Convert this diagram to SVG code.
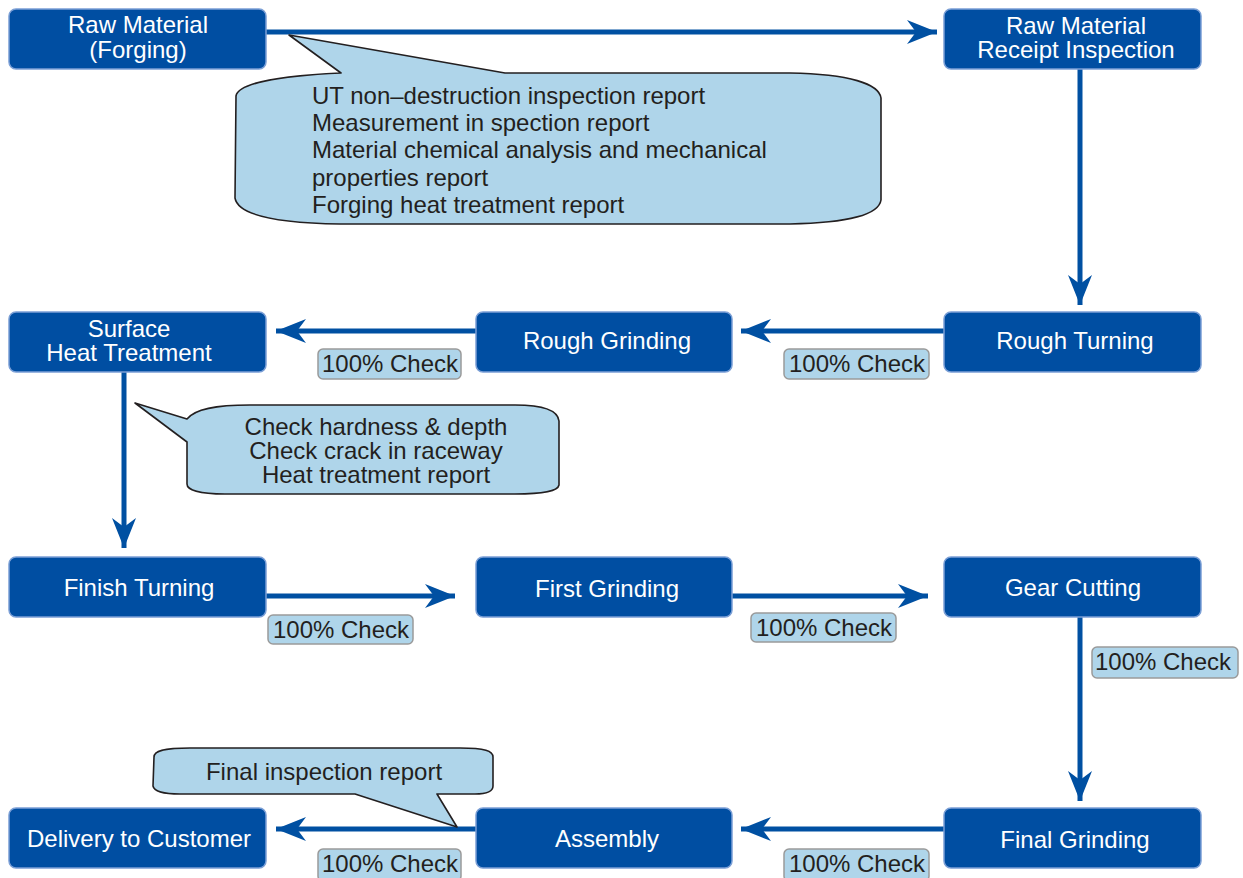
<svg xmlns="http://www.w3.org/2000/svg" width="1243" height="878" viewBox="0 0 1243 878">
<defs>
<marker id="ah" markerUnits="userSpaceOnUse" markerWidth="32" markerHeight="26" viewBox="0 0 32 26" refX="30" refY="13" orient="auto">
<path d="M0,1 L30,13 L0,25 L9,13 Z" fill="#0050a2"/>
</marker>
<style>
.node rect{fill:#004ea2;stroke:#7b9fd6;stroke-width:1.5}
.node text{fill:#fff;font-family:"Liberation Sans",Arial,sans-serif;font-size:24px;text-anchor:middle}
.conn line{stroke:#0050a2;stroke-width:5;marker-end:url(#ah)}
.chk rect{fill:#afd5ea;stroke:#9a9a9a;stroke-width:1.5}
.chk text,.call text{fill:#231f20;font-family:"Liberation Sans",Arial,sans-serif;font-size:24px}
.chk text{text-anchor:middle}
.call path{fill:#afd5ea;stroke:#231f20;stroke-width:1.6;stroke-linejoin:round}
</style>
</defs>
<rect width="1243" height="878" fill="#fff"/>
<g id="connectors" class="conn">
<line x1="266" y1="32" x2="937" y2="32"/>
<line x1="1080" y1="69" x2="1080" y2="305"/>
<line x1="944" y1="331" x2="741" y2="331"/>
<line x1="476" y1="331" x2="276" y2="331"/>
<line x1="124" y1="372" x2="124" y2="548"/>
<line x1="266" y1="596" x2="455" y2="596"/>
<line x1="732" y1="596" x2="928" y2="596"/>
<line x1="1080" y1="617" x2="1080" y2="801"/>
<line x1="944" y1="829" x2="741" y2="829"/>
<line x1="476" y1="829" x2="276" y2="829"/>
</g>
<g id="callout1" class="call">
<path d="M289,35 L341,73 C275,76 238,84 236,96 L235,198 C238,216 280,223 340,224 L790,224 C850,223 879,214 881,200 L881,98 C879,84 850,74 790,73 L505,73 Z"/>
<text x="312" y="104">UT non–destruction inspection report</text>
<text x="312" y="131">Measurement in spection report</text>
<text x="312" y="158">Material chemical analysis and mechanical</text>
<text x="312" y="186">properties report</text>
<text x="312" y="213">Forging heat treatment report</text>
</g>
<g id="callout2" class="call">
<path d="M135,403 L187,419 C195,409 215,405 250,405 L515,405 C545,405 558,411 559,421 L559,485 C558,491 545,494 515,494 L225,494 C200,494 187,490 187,484 L187,442 Z"/>
<text x="376" y="435" text-anchor="middle">Check hardness &amp; depth</text>
<text x="376" y="459" text-anchor="middle">Check crack in raceway</text>
<text x="376" y="483" text-anchor="middle">Heat treatment report</text>
</g>
<g id="callout3" class="call">
<path d="M457,827 L437,794 L475,794 C488,794 493,791 493,786 L493,757 C493,751 485,748 460,748 L190,748 C163,748 154,751 154,757 L153,786 C154,791 162,794 180,794 L355,794 Z"/>
<text x="324" y="780" text-anchor="middle">Final inspection report</text>
</g>
<g id="n_raw" class="node"><rect x="9" y="9" width="257" height="60" rx="7"/><text x="138" y="33">Raw Material</text><text x="138" y="58">(Forging)</text></g>
<g id="n_receipt" class="node"><rect x="944" y="9" width="257" height="60" rx="7"/><text x="1076" y="34">Raw Material</text><text x="1076" y="58">Receipt Inspection</text></g>
<g id="n_roughturn" class="node"><rect x="944" y="312" width="257" height="60" rx="7"/><text x="1075" y="349">Rough Turning</text></g>
<g id="n_roughgrind" class="node"><rect x="476" y="312" width="256" height="60" rx="7"/><text x="607" y="349">Rough Grinding</text></g>
<g id="n_surface" class="node"><rect x="9" y="312" width="257" height="60" rx="7"/><text x="129" y="337">Surface</text><text x="129" y="361">Heat Treatment</text></g>
<g id="n_finishturn" class="node"><rect x="9" y="557" width="257" height="60" rx="7"/><text x="139" y="596">Finish Turning</text></g>
<g id="n_firstgrind" class="node"><rect x="476" y="557" width="256" height="60" rx="7"/><text x="607" y="597">First Grinding</text></g>
<g id="n_gear" class="node"><rect x="944" y="557" width="257" height="60" rx="7"/><text x="1073" y="596">Gear Cutting</text></g>
<g id="n_finalgrind" class="node"><rect x="944" y="808" width="257" height="60" rx="7"/><text x="1075" y="848">Final Grinding</text></g>
<g id="n_assembly" class="node"><rect x="476" y="808" width="256" height="60" rx="7"/><text x="607" y="847">Assembly</text></g>
<g id="n_delivery" class="node"><rect x="9" y="808" width="257" height="60" rx="7"/><text x="139" y="847">Delivery to Customer</text></g>
<g id="checks" class="chk">
<g><rect x="318" y="349" width="143" height="30" rx="5"/><text x="390" y="372">100% Check</text></g>
<g><rect x="784" y="349" width="145" height="30" rx="5"/><text x="857" y="372">100% Check</text></g>
<g><rect x="268" y="615" width="145" height="29" rx="5"/><text x="341" y="638">100% Check</text></g>
<g><rect x="751" y="613" width="145" height="29" rx="5"/><text x="824" y="636">100% Check</text></g>
<g><rect x="1092" y="647" width="146" height="31" rx="5"/><text x="1163" y="670">100% Check</text></g>
<g><rect x="318" y="849" width="143" height="32" rx="5"/><text x="390" y="872">100% Check</text></g>
<g><rect x="784" y="849" width="145" height="32" rx="5"/><text x="857" y="872">100% Check</text></g>
</g>
</svg>
